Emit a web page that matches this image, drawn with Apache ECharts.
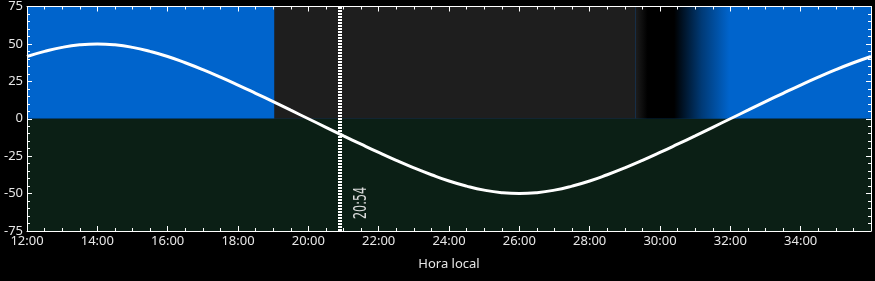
<!DOCTYPE html>
<html>
<head>
<meta charset="utf-8">
<script src="https://cdn.jsdelivr.net/npm/echarts@6/dist/echarts.min.js"></script>
<style>
html,body{margin:0;padding:0;background:#000;}
#c{width:875px;height:281px;}
</style>
</head>
<body>
<div id="c"></div>
<script>
// Local hour (12 = noon, 24 = midnight, 36 = next noon)
const hours = [12,12.5,13,13.5,14,14.5,15,15.5,16,16.5,17,17.5,18,18.5,19,19.5,20,20.5,21,21.5,22,22.5,23,23.5,24,24.5,25,25.5,26,26.5,27,27.5,28,28.5,29,29.5,30,30.5,31,31.5,32,32.5,33,33.5,34,34.5,35,35.5,36];
// Sun elevation (degrees)
const elevation = [41.6,45.0,47.7,49.4,50.0,49.4,47.7,45.0,41.6,37.4,32.8,27.8,22.5,17.0,11.4,5.7,0,-5.7,-11.4,-17.0,-22.5,-27.8,-32.8,-37.4,-41.6,-45.0,-47.7,-49.4,-50.0,-49.4,-47.7,-45.0,-41.6,-37.4,-32.8,-27.8,-22.5,-17.0,-11.4,-5.7,0,5.7,11.4,17.0,22.5,27.8,32.8,37.4,41.6];
// Sky bands above horizon: [start hour, end hour, kind] (day band is the base layer)
const skyBands = [[12,36,'day'],[19.03,29.3,'night'],[29.3,32.2,'dawn']];
const groundBand = [12,36];
const markerHour = 20.9;
const markerLabel = '20:54';
const yTicks = {min:-75,max:75,interval:25};
const xTicks = {min:12,max:36,interval:2};

const DAY = '#0064cc', NIGHT = '#1e1e1e', GROUND = '#0b1f15';
function bandColor(kind){
  if(kind==='day') return DAY;
  if(kind==='night') return NIGHT;
  return {type:'linear',x:0,y:0,x2:1,y2:0,colorStops:[
    {offset:0,color:NIGHT},{offset:0.12,color:'#000'},{offset:0.38,color:'#000'},
    {offset:0.65,color:'#003a76'},{offset:0.92,color:DAY},{offset:1,color:DAY}]};
}
const areas = skyBands.map(b=>[{xAxis:b[0],yAxis:0,itemStyle:{color:bandColor(b[2])}},{xAxis:b[1],yAxis:yTicks.max}]);
areas.push([{xAxis:groundBand[0],yAxis:yTicks.min,itemStyle:{color:GROUND}},{xAxis:groundBand[1],yAxis:0}]);

const fontFam = '"Noto Sans","Open Sans",sans-serif';
const txt = '#e6e6e6';
function fmt(v){ return (v<10?'0':'')+v+':00'; }
function axisCommon(split){
  return {
    z:10,
    axisLine:{show:true,onZero:false,lineStyle:{color:'#fff',width:1}},
    axisTick:{show:true,inside:true,length:5,lineStyle:{color:'#fff',width:1}},
    minorTick:{show:true,splitNumber:split,length:3,lineStyle:{color:'#fff',width:1}},
    splitLine:{show:false}
  };
}
const chart = echarts.init(document.getElementById('c'));
const data = hours.map((h,i)=>[h,elevation[i]]);
chart.setOption({
  backgroundColor:'#000',
  animation:false,
  grid:{left:27,right:4,top:5,bottom:50},
  xAxis:[
    Object.assign(axisCommon(4),{type:'value',min:xTicks.min,max:xTicks.max,interval:xTicks.interval,position:'bottom',
      name:'Hora local',nameLocation:'middle',nameGap:27,nameTextStyle:{color:txt,fontSize:13,fontFamily:fontFam},
      axisLabel:{color:txt,fontSize:13,fontFamily:fontFam,margin:4,formatter:fmt,showMaxLabel:false}}),
    Object.assign(axisCommon(4),{type:'value',min:xTicks.min,max:xTicks.max,interval:xTicks.interval,position:'top',axisLabel:{show:false}})
  ],
  yAxis:[
    Object.assign(axisCommon(5),{type:'value',min:yTicks.min,max:yTicks.max,interval:yTicks.interval,position:'left',
      axisLabel:{color:txt,fontSize:13,fontFamily:fontFam,margin:4}}),
    Object.assign(axisCommon(5),{type:'value',min:yTicks.min,max:yTicks.max,interval:yTicks.interval,position:'right',axisLabel:{show:false}})
  ],
  series:[{
    type:'line',data:data,smooth:true,showSymbol:false,symbol:'none',
    lineStyle:{color:'#fff',width:3},z:3,
    markArea:{silent:true,data:areas,itemStyle:{opacity:1,borderWidth:0},z:1},
    markLine:{silent:true,symbol:'none',label:{show:false},
      lineStyle:{color:'#fff',width:4,type:[2,1],opacity:1},
      data:[{xAxis:markerHour}],z:4}
  }]
});
const p = chart.convertToPixel({xAxisIndex:0,yAxisIndex:0},[markerHour,yTicks.min]);
chart.setOption({graphic:[{type:'text',x:p[0]+21,y:p[1]-12,rotation:Math.PI/2,scaleX:0.62,
  style:{text:markerLabel,fill:'#dcdcdc',font:'18px "DejaVu Sans"',textAlign:'left',textVerticalAlign:'middle'},z:10}]});
</script>
</body>
</html>
